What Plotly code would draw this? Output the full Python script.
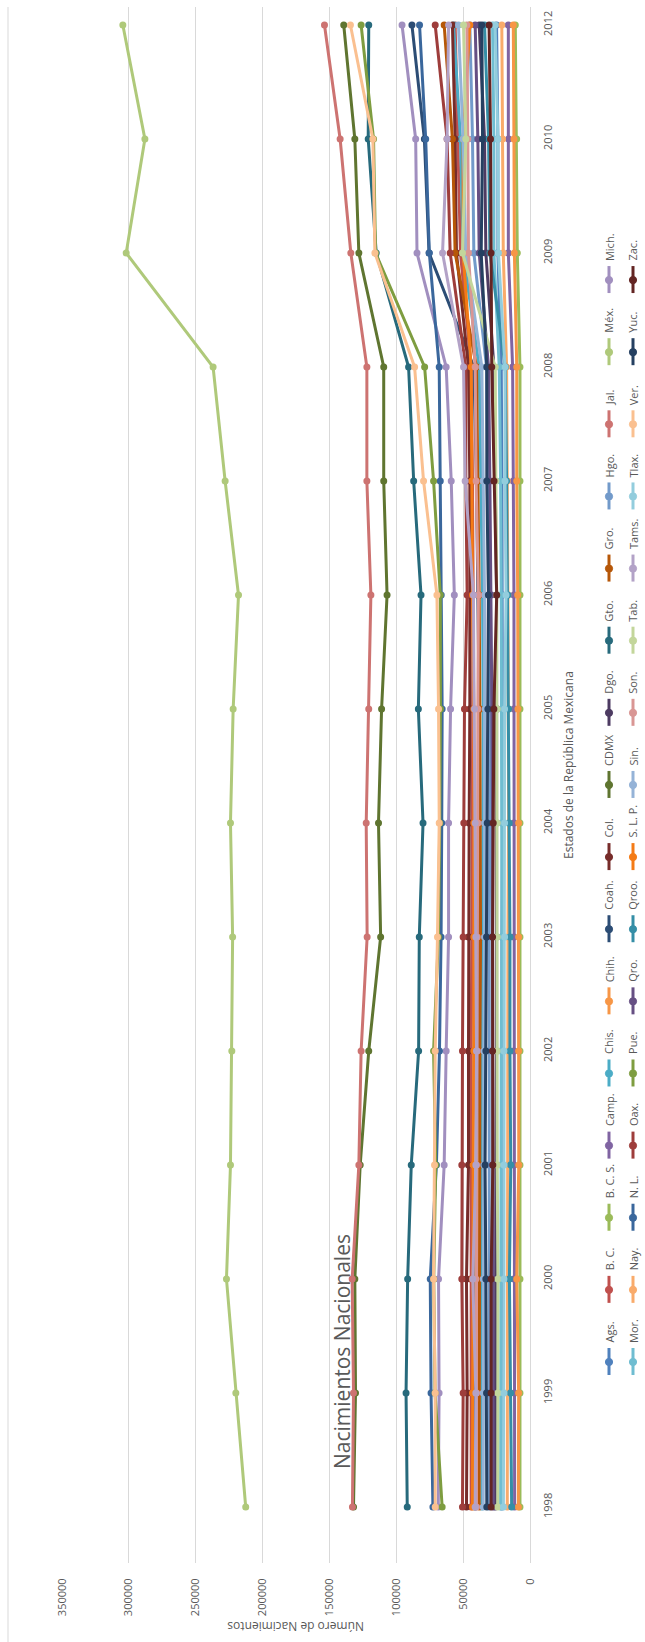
import plotly.graph_objects as go

# ---------------- data ----------------
years = ["1998", "1999", "2000", "2001", "2002", "2003", "2004", "2005",
         "2006", "2007", "2008", "2009", "2010", "2012"]

states = ["Ags.", "B. C.", "B. C. S.", "Camp.", "Chis.", "Chih.", "Coah.", "Col.",
          "CDMX", "Dgo.", "Gto.", "Gro.", "Hgo.", "Jal.", "Méx.", "Mich.",
          "Mor.", "Nay.", "N. L.", "Oax.", "Pue.", "Qro.", "Qroo.", "S. L. P.",
          "Sin.", "Son.", "Tab.", "Tams.", "Tlax.", "Ver.", "Yuc.", "Zac."]

colors = ["#4F81BD", "#C0504D", "#9BBB59", "#8064A2", "#4BACC6", "#F79646",
          "#2C4D75", "#772C2A", "#5F7530", "#4D3B62", "#276A7C", "#B65708",
          "#729ACA", "#CD7371", "#AFC97A", "#A18FBF", "#6FBDD1", "#F9AB6B",
          "#3A679C", "#9E3D3B", "#7E9D40", "#664F83", "#358EA6", "#F47B16",
          "#95B3D7", "#D99694", "#C3D69B", "#B3A2C7", "#93CDDD", "#FAC090",
          "#254061", "#632523"]

ags  = [21000, 21000, 21100, 21100, 21000, 21000, 20500, 20500, 20500, 21000, 21500, 24000, 24000, 25000]
bc   = [44000, 44000, 44500, 44000, 44000, 43500, 43000, 43000, 42500, 43000, 44000, 52000, 54000, 56000]
bcs  = [7500, 7500, 7500, 7500, 7500, 7500, 7500, 7500, 7500, 7500, 7500, 9500, 10000, 11000]
camp = [11500, 11500, 12000, 12000, 12000, 12000, 12000, 12000, 12000, 12500, 13000, 16200, 16000, 16200]
chis = [36000, 36000, 36500, 36000, 36000, 35500, 35000, 35000, 35500, 37000, 38000, 50000, 52000, 57200]
chih = [8700, 8500, 9900, 8400, 8500, 8500, 8500, 9000, 9200, 9900, 9900, 11700, 12000, 12500]
coah = [41000, 41000, 40500, 40000, 39000, 39000, 38500, 38000, 39000, 40000, 42000, 75500, 79000, 88300]
col  = [47500, 47000, 47500, 46000, 46000, 46000, 45500, 45000, 44800, 45000, 46000, 55000, 56000, 58000]
cdmx = [132000, 130500, 131000, 127000, 120600, 111700, 113300, 111000, 106900, 109400, 109400, 128000, 131000, 139300]
dgo  = [26000, 26000, 26000, 25500, 25000, 25000, 25000, 24500, 25000, 26000, 27000, 33000, 34000, 38000]
gto  = [91800, 92700, 91500, 88800, 83300, 82800, 80000, 83500, 81500, 87000, 90800, 115000, 121000, 120600]
gro  = [38000, 38000, 38000, 37500, 37500, 37000, 37000, 37500, 38000, 39000, 40000, 56000, 58000, 64200]
hgo  = [30500, 30500, 31000, 31000, 30500, 30500, 30000, 30000, 30500, 31500, 32500, 42000, 43000, 45000]
jal  = [132800, 132000, 133000, 128000, 126300, 121800, 122500, 120600, 119000, 122000, 122000, 134000, 142000, 153700]
mex  = [212600, 220000, 227000, 224000, 223000, 222400, 224000, 222000, 218000, 228000, 237000, 302000, 288000, 304500]
mich = [68600, 68000, 68400, 64200, 62700, 60900, 60900, 59400, 56600, 58900, 62700, 84500, 85500, 95700]
mor  = [22000, 22000, 22000, 21500, 21500, 21000, 21000, 21000, 21500, 22000, 23000, 27000, 27000, 28000]
nay  = [17000, 17000, 17000, 16500, 16500, 16500, 16000, 16000, 16500, 17000, 17500, 20000, 20500, 21100]
nl   = [72600, 74000, 74600, 70000, 67700, 66500, 66000, 65700, 66400, 67100, 67900, 75300, 78000, 82600]
oax  = [50500, 50000, 51000, 51000, 50500, 50000, 49500, 49000, 47000, 48000, 48000, 59700, 62000, 70900]
pue  = [65700, 71000, 72000, 70500, 72100, 68500, 67500, 67000, 67100, 72100, 78800, 115500, 117000, 126300]
qro  = [27500, 27500, 28000, 28000, 28000, 28000, 28000, 28500, 29000, 30000, 31000, 38000, 39000, 41000]
qroo = [13700, 14500, 15400, 14400, 15000, 15000, 15500, 16000, 16500, 17500, 18500, 30000, 31000, 34000]
slp  = [43000, 43000, 43000, 42500, 42000, 42000, 42000, 42000, 43000, 43500, 44000, 50000, 50000, 45000]
sin  = [35000, 35000, 35000, 34500, 34500, 34000, 34000, 33500, 34000, 35000, 36000, 48000, 50000, 53500]
son  = [40000, 40000, 40500, 40000, 39500, 39500, 39000, 39000, 38600, 40300, 41000, 46000, 46500, 47200]
tab  = [24100, 24000, 24000, 24500, 24500, 24500, 24500, 24500, 24900, 25500, 26000, 50500, 48000, 49700]
tams = [41000, 40500, 42800, 40500, 40000, 40500, 41000, 41500, 42300, 48500, 49700, 65400, 62000, 60900]
tlax = [19900, 19500, 19500, 19500, 19500, 19000, 19000, 19000, 17900, 18700, 18700, 23600, 24000, 26100]
ver  = [70900, 70900, 72100, 71400, 70900, 69200, 67900, 68400, 69600, 79600, 86300, 116000, 117500, 134300]
yuc  = [32300, 32500, 33000, 33600, 33000, 32500, 32000, 31500, 31100, 32300, 32300, 36500, 35500, 36000]
zac  = [29100, 29100, 29100, 27800, 28000, 28000, 27500, 27000, 24900, 26900, 28600, 29100, 29500, 30600]

series = [ags, bc, bcs, camp, chis, chih, coah, col, cdmx, dgo, gto, gro, hgo, jal,
          mex, mich, mor, nay, nl, oax, pue, qro, qroo, slp, sin, son, tab, tams,
          tlax, ver, yuc, zac]

value_ticks = [0, 50000, 100000, 150000, 200000, 250000, 300000, 350000]

# ---------------- layout geometry (pixels) ----------------
W, H = 645, 1642
L, R, T, B = 62, 530, 7, 1563   # plot area edges in page pixels
PW, PH = R - L, B - T
GRAY = "#595959"
GRID = "#d9d9d9"
FONT = "Open Sans"


def xp(px):
    return (px - L) / PW


def yp(py):
    return (B - py) / PH


fig = go.Figure()
for name, vals, c in zip(states, series, colors):
    fig.add_trace(go.Scatter(
        x=vals, y=years, mode="lines+markers", name=name,
        line=dict(color=c, width=3),
        marker=dict(color=c, size=7, symbol="circle"),
        showlegend=False,
    ))

annotations = []
shapes = []

# rotated legend: two columns
for i, (name, c) in enumerate(zip(states, colors)):
    col_i, row = divmod(i, 16)
    cx = 609 + 24 * col_i
    cy = 1362 - row * 72.13
    shapes.append(dict(type="line", xref="paper", yref="paper",
                       x0=xp(cx), x1=xp(cx), y0=yp(cy - 14), y1=yp(cy + 13),
                       line=dict(color=c, width=3)))
    shapes.append(dict(type="circle", xref="paper", yref="paper",
                       x0=xp(cx - 3.6), x1=xp(cx + 3.6), y0=yp(cy - 3.6), y1=yp(cy + 3.6),
                       fillcolor=c, line=dict(color=c, width=1)))
    annotations.append(dict(text=name, xref="paper", yref="paper",
                            x=xp(cx), y=yp(cy - 17), xanchor="center", yanchor="bottom",
                            textangle=-90, showarrow=False,
                            font=dict(family=FONT, size=11, color=GRAY)))

# chart border line at the left
shapes.append(dict(type="line", xref="paper", yref="paper",
                   x0=xp(8), x1=xp(8), y0=yp(7), y1=yp(1642),
                   line=dict(color=GRID, width=1)))

# title
annotations.append(dict(text="Nacimientos Nacionales", xref="paper", yref="paper",
                        x=xp(342), y=yp(1352), xanchor="center", yanchor="middle",
                        textangle=-90, showarrow=False,
                        font=dict(family=FONT, size=21, color=GRAY)))
# category axis title
annotations.append(dict(text="Estados de la República Mexicana", xref="paper", yref="paper",
                        x=xp(568), y=yp(765), xanchor="center", yanchor="middle",
                        textangle=-90, showarrow=False,
                        font=dict(family=FONT, size=12, color=GRAY)))
# value axis title (upside-down)
annotations.append(dict(text="Número de Nacimientos", xref="paper", yref="paper",
                        x=xp(296), y=yp(1627), xanchor="center", yanchor="middle",
                        textangle=180, showarrow=False,
                        font=dict(family=FONT, size=12, color=GRAY)))

fig.update_layout(
    width=W, height=H,
    margin=dict(l=L, r=W - R, t=T, b=H - B, pad=0),
    paper_bgcolor="white", plot_bgcolor="white",
    annotations=annotations, shapes=shapes,
    showlegend=False,
    xaxis=dict(range=[350000, 0], tickvals=value_ticks,
               ticktext=[str(v) for v in value_ticks],
               tickangle=-90, showgrid=True, gridcolor=GRID, gridwidth=1,
               zeroline=True, zerolinecolor=GRID, zerolinewidth=1,
               showline=False, ticks="outside", ticklen=10, tickcolor="rgba(0,0,0,0)",
               tickfont=dict(family=FONT, size=11, color=GRAY)),
    yaxis=dict(type="category", categoryorder="array", categoryarray=years,
               range=[-0.491, 13.158], side="right",
               tickangle=-90, showgrid=False, zeroline=False, showline=False,
               ticks="outside", ticklen=8, tickcolor="rgba(0,0,0,0)",
               tickfont=dict(family=FONT, size=11, color=GRAY)),
)

fig.write_html("out.html")
